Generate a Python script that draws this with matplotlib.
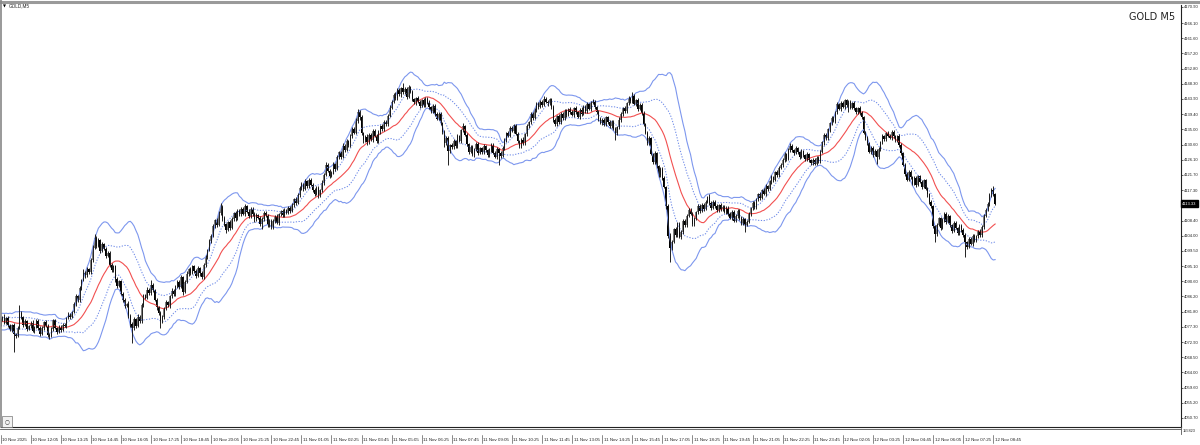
import numpy as np
import pandas as pd
import matplotlib
matplotlib.use('Agg')
import matplotlib.pyplot as plt
from matplotlib.patches import Rectangle
from matplotlib.lines import Line2D
from matplotlib.transforms import blended_transform_factory

# GOLD M5 closes, one row per 16 bars (one row per time label)
prior_closes = [4078.4, 4079.6, 4077.8, 4076.5, 4078.2, 4080.1, 4079.0, 4077.4, 4078.8, 4081.2,
                4080.0, 4078.5, 4079.7, 4077.9, 4076.8, 4078.6, 4080.4, 4079.2, 4078.0]

closes = [
    4079.5, 4080.2, 4078.6, 4079.8, 4077.9, 4076.5, 4077.8, 4075.2, 4074.8, 4077.0, 4081.5, 4080.1, 4078.0, 4078.9, 4076.8, 4077.5,
    4078.6, 4076.2, 4077.4, 4079.0, 4077.1, 4075.3, 4076.9, 4078.8, 4077.6, 4075.0, 4074.6, 4076.8, 4079.2, 4077.0, 4075.8, 4077.3,
    4076.5, 4078.0, 4077.6, 4079.8, 4080.9, 4080.2, 4081.6, 4083.9, 4086.2, 4085.1, 4088.7, 4091.0, 4093.2, 4092.4, 4094.1, 4093.5,
    4096.8, 4100.5, 4103.2, 4101.0, 4102.6, 4099.4, 4101.5, 4100.2, 4098.1, 4099.0, 4095.3, 4093.8, 4095.0, 4091.2, 4089.4, 4090.6,
    4087.0, 4085.2, 4083.5, 4084.1, 4080.6, 4078.2, 4076.9, 4079.5, 4077.6, 4080.3, 4079.1, 4083.8, 4086.5, 4085.9, 4088.2, 4087.1,
    4089.6, 4088.0, 4085.3, 4083.0, 4081.4, 4078.9, 4080.2, 4082.8, 4084.5, 4083.6, 4086.3, 4087.9, 4086.8, 4089.2, 4090.5, 4089.1,
    4091.8, 4087.6, 4090.4, 4092.9, 4094.2, 4093.1, 4095.0, 4093.6, 4092.2, 4094.5, 4093.0, 4091.8, 4095.4, 4097.6, 4099.8, 4102.3,
    4104.0, 4106.8, 4108.5, 4107.2, 4110.6, 4112.4, 4109.0, 4107.3, 4105.6, 4107.9, 4106.3, 4108.8, 4110.5, 4109.1, 4111.3, 4110.2,
    4111.8, 4110.4, 4112.6, 4111.0, 4109.6, 4111.9, 4110.3, 4108.7, 4110.1, 4109.2, 4107.5, 4108.9, 4110.6, 4109.8, 4107.0, 4108.3,
    4106.5, 4108.2, 4109.6, 4107.8, 4110.2, 4111.1, 4109.9, 4111.5, 4110.7, 4112.0, 4111.3, 4112.8, 4114.6, 4113.5, 4115.9, 4117.8,
    4119.0, 4117.6, 4119.8, 4118.5, 4120.3, 4118.9, 4117.4, 4116.2, 4118.0, 4115.8, 4117.2, 4119.5, 4121.8, 4124.6, 4123.0, 4121.5,
    4122.4, 4124.8, 4123.5, 4126.9, 4128.3, 4127.0, 4130.2, 4129.1, 4131.6, 4130.4, 4133.0, 4135.2, 4134.1, 4137.6, 4140.2, 4138.5,
    4134.0, 4131.8, 4132.9, 4131.2, 4133.5, 4132.0, 4134.6, 4133.1, 4131.5, 4134.2, 4136.0, 4135.1, 4137.3, 4136.5, 4139.0, 4141.4,
    4143.0, 4145.2, 4144.1, 4146.6, 4145.3, 4147.0, 4145.8, 4146.9, 4144.6, 4147.3, 4146.0, 4143.8, 4142.9, 4144.2, 4143.1, 4141.9,
    4143.5, 4142.2, 4144.0, 4142.8, 4141.5, 4140.3, 4141.8, 4139.6, 4138.2, 4139.5, 4136.8, 4134.2, 4131.0, 4132.5, 4128.6, 4130.4,
    4129.8, 4131.5, 4130.2, 4133.0, 4131.6, 4134.8, 4135.9, 4133.4, 4130.7, 4128.5, 4129.9, 4127.6, 4129.2, 4130.8, 4128.1, 4129.5,
    4128.3, 4130.1, 4129.0, 4127.4, 4128.9, 4130.5, 4128.2, 4127.0, 4129.3, 4128.0, 4127.3, 4129.6, 4131.8, 4134.0, 4133.2, 4135.5,
    4134.6, 4136.2, 4133.8, 4131.5, 4130.2, 4132.0, 4131.0, 4133.6, 4135.9, 4137.2, 4139.5, 4138.4, 4140.8, 4142.5, 4141.6, 4143.0,
    4142.2, 4144.0, 4143.1, 4142.6, 4143.8, 4141.5, 4137.9, 4136.5, 4138.8, 4137.2, 4139.6, 4138.3, 4140.5, 4139.2, 4141.0, 4140.1,
    4139.3, 4141.2, 4140.0, 4138.7, 4140.8, 4139.5, 4141.6, 4140.4, 4142.3, 4141.1, 4142.8, 4143.0, 4141.5, 4140.2, 4138.0, 4136.9,
    4137.8, 4136.4, 4138.5, 4137.1, 4135.9, 4137.3, 4135.2, 4134.0, 4135.6, 4137.9, 4139.5, 4141.2, 4140.3, 4142.6, 4144.1, 4143.2,
    4144.8, 4142.5, 4143.6, 4141.0, 4142.2, 4139.8, 4136.5, 4134.1, 4131.0, 4132.4, 4127.8, 4125.5, 4128.0, 4124.2, 4121.6, 4123.4,
    4120.8, 4118.2, 4112.5, 4104.0, 4100.3, 4102.1, 4105.8, 4104.2, 4107.5, 4103.6, 4105.1, 4108.3, 4107.0, 4109.8, 4111.6, 4110.4,
    4107.4, 4108.9, 4110.8, 4112.6, 4111.2, 4113.0, 4111.9, 4113.8, 4115.2, 4113.5, 4112.1, 4113.9, 4112.7, 4111.4, 4112.9, 4111.8,
    4112.4, 4110.9, 4112.1, 4110.3, 4109.2, 4111.0, 4108.4, 4109.7, 4111.3, 4109.1, 4107.6, 4108.8, 4107.2, 4108.0, 4110.4, 4112.0,
    4113.5, 4112.4, 4114.6, 4116.0, 4115.1, 4117.3, 4116.2, 4118.4, 4117.6, 4119.8, 4121.0, 4120.2, 4122.5, 4121.7, 4123.8, 4124.6,
    4126.0, 4127.8, 4126.5, 4128.9, 4130.2, 4129.0, 4128.1, 4129.5, 4128.3, 4127.0, 4128.6, 4127.5, 4126.3, 4127.7, 4126.0, 4125.1,
    4126.2, 4125.0, 4126.8, 4125.7, 4128.4, 4131.2, 4133.5, 4132.4, 4135.0, 4136.8, 4138.4, 4137.5, 4140.1, 4142.3, 4141.0, 4142.8,
    4141.6, 4143.5, 4142.0, 4143.1, 4141.4, 4142.7, 4141.2, 4140.0, 4141.3, 4139.8, 4138.6, 4134.0, 4132.6, 4130.9, 4128.5, 4129.7,
    4127.6, 4128.8, 4126.9, 4129.4, 4131.2, 4133.0, 4132.1, 4134.0, 4133.2, 4132.5, 4134.3, 4133.0, 4131.8, 4133.1, 4130.4, 4128.0,
    4124.6, 4122.1, 4120.3, 4122.6, 4121.0, 4119.2, 4120.8, 4118.9, 4121.3, 4119.7, 4118.3, 4120.1, 4117.6, 4116.0, 4113.8, 4112.5,
    4106.8, 4104.5, 4107.2, 4109.0, 4106.3, 4108.5, 4110.4, 4108.1, 4109.6, 4107.0, 4105.4, 4107.8, 4106.2, 4104.8, 4106.9, 4105.5,
    4104.2, 4102.0, 4100.8, 4103.1, 4101.6, 4104.0, 4102.5, 4103.8, 4105.3, 4104.1, 4106.6, 4109.8, 4111.5, 4113.2, 4115.9, 4117.4,
    4116.0, 4113.33,
]

# upper / lower shadow lengths beyond the body, in tenths of a dollar
wick_up = [
    5, 3, 8, 4, 6, 3, 5, 7, 4, 6, 22, 5, 4, 6, 3, 5,
    4, 6, 3, 7, 5, 4, 6, 3, 5, 7, 4, 6, 3, 5, 4, 6,
    6, 4, 5, 3, 7, 5, 4, 6, 8, 5, 7, 4, 9, 5, 6, 4,
    5, 7, 13, 6, 8, 5, 7, 4, 6, 5, 4, 7, 5, 4, 6, 5,
    4, 6, 5, 3, 7, 4, 5, 6, 4, 7, 5, 6, 4, 5, 7, 4,
    15, 5, 4, 6, 3, 5, 7, 4, 6, 5, 4, 7, 5, 4, 6, 5,
    6, 4, 5, 7, 4, 6, 5, 3, 6, 5, 4, 7, 5, 6, 4, 7,
    5, 7, 4, 6, 5, 11, 4, 6, 5, 4, 7, 5, 4, 6, 5, 4,
    4, 6, 5, 4, 7, 5, 4, 6, 5, 3, 6, 4, 5, 7, 4, 6,
    5, 6, 4, 7, 5, 4, 6, 5, 4, 6, 5, 7, 4, 6, 5, 7,
    6, 4, 7, 5, 4, 6, 5, 4, 6, 5, 4, 7, 5, 8, 6, 4,
    5, 7, 4, 6, 5, 4, 7, 5, 6, 4, 8, 5, 6, 7, 8, 5,
    6, 4, 5, 7, 4, 6, 5, 4, 6, 5, 4, 7, 5, 6, 5, 7,
    6, 5, 7, 4, 6, 5, 16, 6, 5, 7, 4, 6, 5, 4, 6, 5,
    5, 6, 4, 5, 7, 4, 6, 5, 4, 6, 5, 4, 6, 5, 7, 4,
    5, 7, 4, 6, 5, 4, 9, 5, 6, 4, 5, 7, 4, 6, 5, 4,
    4, 6, 5, 4, 7, 5, 4, 6, 5, 4, 6, 5, 7, 4, 6, 5,
    6, 5, 4, 6, 5, 4, 7, 5, 6, 4, 5, 7, 4, 6, 5, 7,
    5, 7, 4, 6, 5, 4, 6, 5, 4, 7, 5, 4, 6, 5, 4, 6,
    5, 4, 6, 5, 4, 7, 5, 4, 6, 5, 4, 8, 5, 4, 6, 5,
    5, 6, 4, 5, 7, 4, 6, 5, 4, 6, 5, 4, 6, 5, 7, 4,
    12, 5, 4, 6, 5, 4, 6, 5, 4, 6, 5, 4, 6, 5, 4, 5,
    6, 5, 4, 6, 7, 5, 4, 6, 5, 4, 6, 5, 4, 6, 5, 4,
    5, 6, 4, 5, 6, 4, 5, 6, 4, 10, 5, 4, 6, 5, 4, 6,
    4, 6, 5, 4, 6, 5, 4, 6, 5, 4, 6, 5, 4, 6, 5, 4,
    5, 6, 4, 5, 6, 4, 5, 6, 4, 5, 6, 4, 5, 6, 4, 5,
    6, 5, 4, 6, 9, 5, 4, 6, 5, 4, 6, 5, 4, 6, 5, 4,
    4, 6, 5, 4, 6, 5, 4, 6, 5, 4, 6, 5, 4, 6, 5, 4,
    6, 5, 4, 6, 5, 4, 6, 5, 4, 6, 5, 4, 6, 5, 4, 6,
    5, 4, 6, 5, 4, 6, 5, 4, 6, 5, 4, 6, 5, 4, 6, 5,
    5, 6, 4, 5, 6, 4, 5, 6, 4, 5, 6, 4, 5, 6, 4, 5,
    5, 4, 6, 5, 4, 6, 5, 4, 6, 5, 4, 6, 5, 4, 6, 5,
    6, 5, 4, 6, 5, 4, 6, 5, 4, 6, 5, 4, 6, 5, 4, 6,
    12, 5,
]
wick_dn = [
    4, 6, 3, 5, 7, 4, 8, 52, 6, 4, 3, 5, 6, 4, 7, 3,
    5, 3, 6, 4, 7, 5, 3, 6, 4, 5, 8, 3, 6, 4, 5, 3,
    7, 5, 4, 6, 3, 5, 4, 3, 5, 6, 4, 5, 3, 7, 4, 6,
    6, 4, 5, 7, 4, 6, 3, 5, 7, 4, 6, 5, 4, 8, 6, 4,
    5, 7, 6, 4, 8, 9, 43, 5, 7, 4, 6, 5, 7, 4, 5, 6,
    5, 6, 4, 7, 5, 18, 4, 6, 5, 4, 7, 5, 6, 4, 5, 6,
    4, 9, 5, 4, 6, 5, 3, 6, 5, 4, 7, 5, 4, 6, 5, 4,
    6, 4, 5, 7, 4, 5, 6, 5, 8, 4, 6, 5, 4, 7, 5, 6,
    5, 4, 6, 5, 4, 6, 5, 7, 4, 5, 6, 17, 5, 4, 6, 5,
    6, 5, 4, 5, 7, 4, 5, 6, 4, 5, 6, 4, 5, 7, 4, 5,
    5, 6, 4, 5, 7, 4, 6, 5, 4, 7, 5, 4, 6, 5, 4, 6,
    4, 5, 6, 4, 5, 7, 4, 6, 5, 4, 5, 6, 4, 5, 6, 7,
    7, 9, 5, 6, 4, 5, 7, 4, 6, 5, 4, 5, 6, 4, 5, 4,
    5, 4, 6, 5, 4, 7, 5, 4, 6, 5, 4, 6, 5, 7, 4, 5,
    4, 6, 5, 4, 6, 5, 4, 7, 5, 4, 6, 5, 12, 6, 40, 4,
    6, 4, 5, 7, 4, 5, 6, 4, 5, 7, 5, 4, 6, 5, 6, 4,
    5, 4, 6, 5, 4, 6, 5, 4, 6, 35, 5, 4, 6, 5, 4, 5,
    4, 6, 5, 4, 6, 5, 4, 6, 5, 4, 6, 5, 4, 6, 5, 4,
    6, 4, 5, 7, 5, 4, 6, 5, 4, 6, 5, 4, 6, 5, 4, 5,
    4, 6, 5, 4, 6, 5, 4, 6, 5, 4, 6, 5, 4, 6, 5, 4,
    6, 4, 5, 4, 6, 5, 4, 20, 5, 4, 6, 5, 4, 6, 5, 4,
    5, 4, 6, 5, 4, 6, 5, 4, 6, 5, 4, 6, 5, 4, 6, 5,
    5, 4, 6, 8, 40, 5, 4, 6, 5, 4, 6, 5, 4, 6, 5, 4,
    6, 5, 4, 6, 5, 4, 6, 5, 4, 6, 5, 4, 6, 5, 4, 6,
    5, 4, 6, 5, 4, 6, 5, 4, 6, 5, 4, 6, 22, 5, 4, 6,
    4, 6, 5, 4, 6, 5, 4, 6, 5, 4, 6, 5, 4, 6, 5, 4,
    5, 4, 6, 5, 4, 6, 5, 4, 6, 5, 4, 6, 5, 4, 6, 5,
    6, 5, 4, 6, 5, 4, 6, 5, 4, 6, 5, 4, 6, 5, 4, 6,
    4, 6, 5, 18, 5, 4, 6, 5, 4, 6, 5, 4, 6, 5, 4, 6,
    6, 5, 20, 4, 6, 5, 4, 6, 5, 4, 6, 5, 4, 6, 5, 4,
    4, 6, 5, 4, 6, 5, 4, 6, 5, 4, 6, 5, 4, 6, 5, 4,
    6, 25, 5, 4, 6, 5, 4, 6, 5, 4, 6, 5, 4, 6, 5, 4,
    5, 43, 6, 5, 4, 6, 5, 4, 6, 5, 4, 6, 5, 4, 6, 5,
    4, 5,
]

time_labels = [
    '10 Nov 2025', '10 Nov 12:05', '10 Nov 13:25', '10 Nov 14:45', '10 Nov 16:05', '10 Nov 17:25',
    '10 Nov 18:45', '10 Nov 20:05', '10 Nov 21:25', '10 Nov 22:45', '11 Nov 01:05', '11 Nov 02:25',
    '11 Nov 03:45', '11 Nov 05:05', '11 Nov 06:25', '11 Nov 07:45', '11 Nov 09:05', '11 Nov 10:25',
    '11 Nov 11:45', '11 Nov 13:05', '11 Nov 14:25', '11 Nov 15:45', '11 Nov 17:05', '11 Nov 18:25',
    '11 Nov 19:45', '11 Nov 21:05', '11 Nov 22:25', '11 Nov 23:45', '12 Nov 02:05', '12 Nov 03:25',
    '12 Nov 04:45', '12 Nov 06:05', '12 Nov 07:25', '12 Nov 08:45',
]
price_ticks = [4170.90, 4166.10, 4161.60, 4157.20, 4152.80, 4148.30, 4143.90, 4139.40, 4135.00,
               4130.60, 4126.10, 4121.70, 4117.30, 4108.40, 4104.00, 4099.50, 4095.10, 4090.60,
               4086.20, 4081.80, 4077.30, 4072.90, 4068.50, 4064.00, 4059.60, 4055.20, 4050.70]
last_price = 4113.33
scale_corner = '155823'
bars_per_label = 16
bb_period = 20

c = np.array(closes)
o = np.r_[prior_closes[-1], c[:-1]]
hi = np.maximum(o, c) + np.array(wick_up) / 10
lo = np.minimum(o, c) - np.array(wick_dn) / 10
x = np.arange(len(c))

s = pd.Series(np.r_[prior_closes, closes])
mid = s.rolling(bb_period).mean().values[-len(c):]
sd = s.rolling(bb_period).std(ddof=0).values[-len(c):]

W, H = 1200, 445
fig = plt.figure(figsize=(12, 4.45), dpi=100)
fig.patch.set_facecolor('white')
ax = fig.add_axes([1 / W, 1 - 427 / H, 1180 / W, 422 / H])
ax.set_xlim(0.4 / 1.88, 1180.4 / 1.88)
ax.set_ylim(4048.07, 4171.36)

# bollinger bands
blue = '#7d97ee'
ax.plot(x, mid + 2 * sd, color=blue, lw=0.8)
ax.plot(x, mid - 2 * sd, color=blue, lw=0.8)
ax.plot(x, mid + sd, color='#6f8be8', lw=0.75, ls=(0, (1.2, 1.5)))
ax.plot(x, mid - sd, color='#6f8be8', lw=0.75, ls=(0, (1.2, 1.5)))
ax.plot(x, mid, color='#f25050', lw=0.8)

# candles
bull = c >= o
ax.vlines(x, lo, hi, color='#111111', lw=0.65)
body_lo = np.minimum(o, c)
body_h = np.maximum(np.abs(c - o), 0.2)
ax.bar(x[bull], body_h[bull], bottom=body_lo[bull], width=0.8, color='#808080', lw=0)
ax.bar(x[~bull], body_h[~bull], bottom=body_lo[~bull], width=0.8, color='#000000', lw=0)

for side in ['top', 'left']:
    ax.spines[side].set_visible(False)
ax.spines['right'].set_color('#222222')
ax.spines['right'].set_linewidth(0.8)
ax.spines['bottom'].set_color('#222222')
ax.spines['bottom'].set_linewidth(0.8)

# price scale on the right
lab_font = 'Liberation Sans'
ax.yaxis.tick_right()
ax.set_yticks(price_ticks)
ax.set_yticklabels(['%.2f' % v for v in price_ticks], fontfamily=lab_font)
ax.tick_params(axis='y', length=1.5, width=0.5, pad=0.8, labelsize=3.0, colors='#222222')
ax.set_xticks([])
ax.text(1.0008, last_price, '%.2f' % last_price, transform=blended_transform_factory(ax.transAxes, ax.transData),
        ha='left', va='center', fontsize=3.0, color='white', fontfamily=lab_font,
        bbox=dict(boxstyle='square,pad=0.3', fc='black', ec='black'))
fig.text(1183 / W, 1 - 431 / H, scale_corner, fontsize=2.8, va='center', ha='left', color='#222222',
         fontfamily=lab_font)

# time scale
tx = blended_transform_factory(ax.transData, fig.transFigure)
for k, lab in enumerate(time_labels):
    xb = k * bars_per_label
    ax.plot([xb, xb], [1 - 435 / H, 1 - 443 / H], transform=tx, color='#333333', lw=0.4, clip_on=False)
    ax.text(xb + 0.8, 1 - 440 / H, lab, transform=tx, ha='left', va='center', fontsize=3.2,
            color='#222222', fontfamily=lab_font, clip_on=False)

# window frame
fig.add_artist(Line2D([0, 1], [1 - 1.5 / H, 1 - 1.5 / H], color='#9a9a9a', lw=2.2))
fig.add_artist(Line2D([0.6 / W, 0.6 / W], [1 - 427 / H, 1], color='#888888', lw=1.2))
fig.add_artist(Line2D([0, 1181 / W], [1 - 429 / H, 1 - 429 / H], color='#555555', lw=0.6))
fig.add_artist(Line2D([1181 / W, 1181 / W], [1 - 434 / H, 1 - 427 / H], color='#555555', lw=0.6))
fig.text(3 / W, 1 - 6 / H, '\u25bc', fontsize=2.8, va='center', ha='left', color='black')
fig.text(9 / W, 1 - 6 / H, 'GOLD,M5', fontsize=3.3, va='center', ha='left', color='#222222',
         fontfamily=lab_font)
fig.text(1175 / W, 1 - 17 / H, 'GOLD M5', fontsize=7, va='center', ha='right', color='#222222')

# small button at the bottom left
fig.add_artist(Rectangle((2 / W, 1 - 427 / H), 10 / W, 11 / H, fc='#f2f2f2', ec='#777777', lw=0.5))
fig.text(7 / W, 1 - 421.5 / H, '\u25cb', fontsize=4, va='center', ha='center', color='#333333')

fig.savefig('out.png', dpi=100)
